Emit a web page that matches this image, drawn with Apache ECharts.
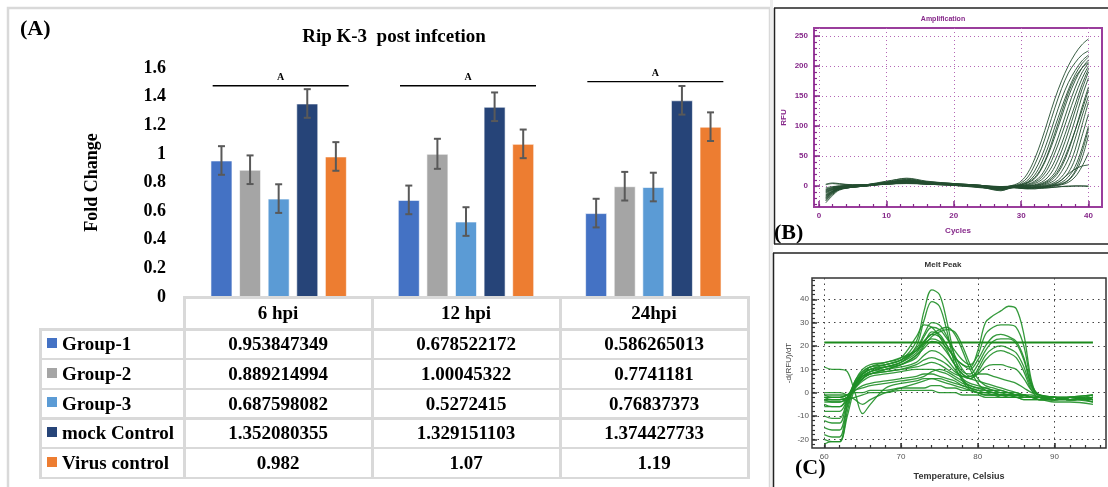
<!DOCTYPE html>
<html><head><meta charset="utf-8">
<script src="https://cdn.jsdelivr.net/npm/echarts@6/dist/echarts.min.js"></script>
<style>
html,body{margin:0;padding:0;background:#fff;}
#wrap{position:relative;width:1108px;height:487px;overflow:hidden;background:#fff;}
#chart{position:absolute;left:0;top:0;width:1108px;height:487px;}
#tbl{position:absolute;left:0;top:0;width:1108px;height:487px;pointer-events:none;font-family:"Liberation Serif","Times New Roman",serif;font-weight:bold;color:#000;}
.ln{position:absolute;background:#d9d9d9;}
.cell{position:absolute;text-align:center;font-size:19px;white-space:nowrap;}
.leg{position:absolute;font-size:19px;white-space:nowrap;}
.sq{position:absolute;width:10px;height:10px;}
</style>
</head><body>
<div id="wrap"><div id="chart"></div><div id="tbl"></div></div>
<script>
// ---------- Panel A data ----------
const categories = ['6 hpi', '12 hpi', '24hpi'];
const seriesNames = ['Group-1', 'Group-2', 'Group-3', 'mock Control', 'Virus control'];
const group1 = [0.953847349, 0.678522172, 0.586265013];
const group2 = [0.889214994, 1.00045322, 0.7741181];
const group3 = [0.687598082, 0.5272415, 0.76837373];
const mockControl = [1.352080355, 1.329151103, 1.374427733];
const virusControl = [0.982, 1.07, 1.19];
const err1 = [0.1, 0.1, 0.1];
const err2 = [0.1, 0.105, 0.1];
const err3 = [0.1, 0.1, 0.1];
const errMock = [0.1, 0.1, 0.1];
const errVirus = [0.1, 0.1, 0.1];
const sigLevels = [1.476, 1.476, 1.505];
const sigLabels = ['A', 'A', 'A'];
const barColors = ['#4472C4', '#A5A5A5', '#5B9BD5', '#264478', '#ED7D31'];

// ---------- Panel B data (Amplification) ----------
const ampCycles = [1, 2, 3, 5, 7, 10, 13, 16, 20, 24, 27, 29, 30, 31, 32, 33, 34, 35, 36, 37, 38, 39, 40];
const ampCurves = [
  [-20, -10, -4, -1, 1, 4, 6, 4, 2, 0, -2, 2, 8, 22, 45, 75, 110, 145, 175, 200, 220, 235, 245],
  [-15, -8, -3, 0, 2, 5, 8, 5, 3, 1, -1, 1, 5, 15, 35, 62, 95, 130, 162, 188, 205, 218, 225],
  [-25, -14, -6, -2, 1, 6, 10, 6, 3, 0, -3, 0, 3, 10, 25, 48, 78, 112, 145, 172, 192, 208, 218],
  [-10, -5, -2, 0, 2, 8, 12, 7, 4, 1, -2, 0, 2, 7, 18, 38, 65, 98, 130, 160, 185, 203, 215],
  [-18, -9, -4, -1, 1, 3, 5, 3, 2, 0, -4, -1, 1, 5, 12, 28, 52, 82, 115, 148, 175, 196, 210],
  [2, 4, 3, 2, 2, 4, 6, 4, 2, -1, -5, 0, 1, 3, 8, 18, 38, 65, 98, 132, 163, 188, 205],
  [-22, -12, -5, -2, 0, 5, 9, 6, 3, 1, -6, -2, 0, 2, 6, 14, 30, 55, 85, 118, 150, 178, 200],
  [-8, -4, -1, 1, 2, 6, 10, 6, 3, 0, -3, -1, 0, 1, 4, 10, 22, 42, 70, 102, 135, 168, 195],
  [-12, -6, -2, 0, 2, 4, 7, 5, 2, -1, -2, 0, -1, 0, 2, 6, 15, 32, 58, 90, 125, 160, 190],
  [-5, -2, 0, 1, 2, 3, 5, 3, 1, -2, -7, -2, -1, 0, 1, 4, 10, 22, 45, 75, 110, 148, 180],
  [-16, -9, -4, -1, 1, 5, 9, 5, 3, 0, -4, -1, -2, -1, 0, 2, 6, 15, 32, 58, 92, 130, 165],
  [3, 5, 4, 2, 2, 3, 5, 4, 2, -1, -3, 0, -1, -2, -1, 1, 4, 10, 24, 45, 78, 115, 150],
  [-28, -16, -7, -2, 0, 4, 8, 5, 2, -2, -8, -1, -2, -3, -2, 0, 2, 6, 15, 32, 60, 100, 140],
  [-14, -7, -3, 0, 1, 3, 4, 3, 1, -3, -5, -2, -3, -3, -2, -1, 1, 4, 10, 22, 45, 82, 120],
  [-6, -3, -1, 0, 1, 5, 11, 7, 4, 1, -2, -3, -4, -4, -3, -2, 0, 2, 6, 15, 32, 62, 100],
  [-19, -11, -5, -2, 0, 4, 6, 4, 2, -2, -6, -2, -3, -4, -5, -3, -1, 1, 4, 10, 25, 55, 95],
  [-9, -5, -2, 0, 2, 7, 13, 8, 4, 1, -4, -3, -4, -5, -4, -3, -2, 0, 2, 6, 15, 32, 55],
  [-11, -6, -3, -1, 1, 4, 7, 5, 2, -1, -3, -2, -3, -3, -2, -1, 0, 3, 10, 20, 28, 33, 35],
  [-3, -1, 0, 1, 2, 4, 6, 4, 2, 0, -1, -1, -2, -3, -3, -4, -3, -2, -1, 0, 0, 0, 0],
  [-24, -13, -6, -2, 0, 3, 5, 3, 1, -2, -4, 0, -1, -2, -2, -3, -3, -2, -1, -1, 0, 0, -1],
  [-17, -9, -4, -1, 1, 6, 9, 6, 3, 0, -3, 0, 2, 6, 14, 30, 55, 88, 122, 155, 180, 196, 206],
  [-7, -3, -1, 0, 2, 5, 8, 5, 2, -1, -5, -1, 0, 0, 1, 3, 8, 18, 36, 62, 92, 125, 160],
  [-21, -11, -5, -2, 0, 4, 7, 4, 2, -1, -6, -2, -3, -3, -3, -2, -1, 1, 3, 9, 22, 45, 85]
];
const ampXLabels = [0, 10, 20, 30, 40];
const ampYLabels = [0, 50, 100, 150, 200, 250];
const ampXMinor = [0, 2, 4, 6, 8, 10, 12, 14, 16, 18, 20, 22, 24, 26, 28, 30, 32, 34, 36, 38, 40];
const ampYMinor = [-30, -20, -10, 0, 10, 20, 30, 40, 50, 60, 70, 80, 90, 100, 110, 120, 130, 140, 150, 160, 170, 180, 190, 200, 210, 220, 230, 240, 250, 260];

// ---------- Panel C data (Melt Peak) ----------
const meltTemps = [60, 61, 62, 63, 64, 65, 66, 68, 70, 72, 73, 74, 75, 76, 77, 78, 79, 80, 81, 82, 83, 84, 85, 86, 87, 88, 90, 92, 95];
const meltCurves = [
  [-2, -3, -3, -2, 4, 8, 10, 12, 14, 22, 35, 44, 42, 30, 15, 6, 2, 0, -1, -1, -1, -2, -2, -2, -2, -3, -3, -2, -4],
  [-3, -4, -4, -2, 3, 7, 9, 11, 13, 20, 31, 39, 37, 26, 12, 5, 1, 0, -1, -1, -2, -2, -2, -3, -3, -3, -2, -2, -3],
  [-20, -21, -21, -8, 4, 8, 10, 11, 13, 17, 22, 25, 24, 20, 15, 12, 11, 18, 30, 33, 35, 37, 36, 25, 5, -2, -3, -3, -2],
  [-15, -16, -16, -5, 5, 9, 11, 12, 14, 18, 24, 28, 27, 23, 18, 14, 12, 16, 25, 28, 29, 29, 28, 20, 4, -1, -2, -3, -1],
  [-2, -2, -2, -1, 3, 8, 11, 13, 15, 24, 29, 28, 24, 18, 12, 8, 6, 5, 4, 3, 2, 1, 0, -1, -2, -2, -3, -2, -3],
  [-3, -3, -3, -2, 2, 6, 9, 11, 13, 18, 22, 25, 27, 28, 25, 18, 10, 4, 1, 0, -1, -1, -2, -2, -2, -3, -3, -2, -4],
  [-10, -11, -11, -3, 5, 10, 12, 13, 15, 18, 21, 23, 22, 19, 15, 12, 10, 14, 20, 24, 25, 24, 22, 15, 3, -1, -2, -2, -3],
  [-5, -6, -6, -2, 4, 8, 10, 11, 12, 16, 19, 22, 21, 17, 12, 8, 6, 10, 16, 19, 20, 19, 17, 11, 2, -1, -2, -3, -2],
  [-3, -3, -3, -2, 3, 7, 9, 10, 11, 13, 16, 18, 17, 14, 10, 6, 4, 3, 2, 1, 0, 0, -1, -1, -2, -2, -3, -2, -1],
  [-18, -19, -19, -6, 3, 7, 8, 9, 10, 12, 14, 15, 14, 12, 9, 7, 6, 8, 11, 12, 12, 11, 10, 6, 1, -1, -2, -3, -2],
  [-2, -2, -2, -1, 2, 5, 7, 8, 9, 10, 10, 10, 9, 8, 6, 4, 3, 2, 1, 1, 0, 0, -1, -1, -2, -2, -2, -3, -2],
  [-3, -3, -3, -2, 1, 3, 4, 5, 6, 7, 8, 8, 7, 6, 5, 3, 2, 1, 0, 0, -1, -1, -1, -2, -2, -2, -3, -3, -4],
  [-1, -1, -1, -1, 0, 0, 1, 1, 2, 2, 2, 3, 3, 2, 2, 1, 1, 0, 0, 0, -1, -1, -1, -1, -2, -2, -2, -2, -3],
  [-4, -4, -4, -3, -2, -1, 0, 0, 1, 1, 1, 1, 0, 0, 0, -1, -1, -1, -2, -2, -2, -2, -2, -3, -3, -3, -4, -4, -5],
  [11, 10, 10, 9, 0, -9, -5, 2, 4, 5, 6, 6, 5, 4, 3, 2, 1, 0, 0, -1, -1, -1, -2, -2, -2, -3, -3, -3, -2],
  [-22, -21, -21, -10, 2, 6, 8, 10, 12, 15, 20, 24, 26, 27, 26, 20, 12, 6, 3, 2, 1, 0, -1, -1, -2, -2, -3, -2, -1],
  [0, 0, 0, -1, -3, -5, -3, 0, 2, 4, 5, 6, 6, 5, 4, 3, 2, 1, 1, 0, 0, -1, -1, -2, -2, -3, -3, -2, -3],
  [-12, -13, -13, -4, 3, 6, 8, 9, 10, 11, 12, 13, 12, 10, 8, 7, 7, 8, 8, 7, 6, 5, 4, 2, 0, -1, -2, -3, -2],
  [-8, -8, -8, -3, 4, 9, 11, 12, 14, 19, 25, 30, 29, 24, 16, 10, 7, 9, 14, 17, 18, 17, 15, 9, 1, -2, -2, -3, -3],
  [-1, -2, -2, -1, 1, 2, 3, 4, 5, 6, 7, 9, 10, 9, 7, 5, 3, 2, 2, 1, 1, 0, 0, -1, -1, -2, -2, -3, -2],
  [-6, -6, -6, -3, 2, 6, 8, 10, 12, 16, 21, 26, 25, 20, 14, 9, 8, 12, 18, 22, 23, 23, 21, 14, 3, -1, -2, -2, -3]
];
const meltThreshold = 21.5;
const meltThresholdRange = [60, 95];
const meltXLabels = [60, 70, 80, 90];
const meltYLabels = [-20, -10, 0, 10, 20, 30, 40];
const meltXMinor = [60, 62, 64, 66, 68, 70, 72, 74, 76, 78, 80, 82, 84, 86, 88, 90, 92, 94, 96];
const meltYMinor = [-22, -20, -18, -16, -14, -12, -10, -8, -6, -4, -2, 0, 2, 4, 6, 8, 10, 12, 14, 16, 18, 20, 22, 24, 26, 28, 30, 32, 34, 36, 38, 40, 42, 44, 46, 48];

// ---------- build ----------
const SERIF = '"Liberation Serif","Times New Roman",serif';
const SANS = '"Liberation Sans",Arial,sans-serif';
const PURPLE = '#86288a';
const BAR_STEP = 28.6;
const groupVals = [group1, group2, group3, mockControl, virusControl];
const groupErrs = [err1, err2, err3, errMock, errVirus];

const series = [];
groupVals.forEach((vals, gi) => {
  series.push({
    type: 'bar', name: seriesNames[gi], xAxisIndex: 0, yAxisIndex: 0,
    data: vals, barWidth: 22, barGap: '30%',
    itemStyle: { color: barColors[gi], borderColor: 'rgba(255,255,255,0.6)', borderWidth: 1 }
  });
});
groupVals.forEach((vals, gi) => {
  const errs = groupErrs[gi];
  series.push({
    type: 'custom', xAxisIndex: 0, yAxisIndex: 0, z: 10,
    encode: { x: 0, y: [1, 2] },
    data: vals.map((v, i) => [i, v - errs[i], v + errs[i]]),
    renderItem: function (params, api) {
      const lo = api.coord([api.value(0), api.value(1)]);
      const hi = api.coord([api.value(0), api.value(2)]);
      const x = lo[0] + (gi - 2) * BAR_STEP;
      const cap = 3.5;
      const st = { stroke: '#595959', lineWidth: 2 };
      return { type: 'group', children: [
        { type: 'line', shape: { x1: x, y1: lo[1], x2: x, y2: hi[1] }, style: st },
        { type: 'line', shape: { x1: x - cap, y1: hi[1], x2: x + cap, y2: hi[1] }, style: st },
        { type: 'line', shape: { x1: x - cap, y1: lo[1], x2: x + cap, y2: lo[1] }, style: st }
      ]};
    }
  });
});
series.push({
  type: 'custom', xAxisIndex: 0, yAxisIndex: 0, z: 11,
  encode: { x: 0, y: 1 },
  data: sigLevels.map((v, i) => [i, v]),
  renderItem: function (params, api) {
    const c = api.coord([api.value(0), api.value(1)]);
    return { type: 'group', children: [
      { type: 'line', shape: { x1: c[0] - 66, y1: c[1], x2: c[0] + 70, y2: c[1] }, style: { stroke: '#000', lineWidth: 1.3 } },
      { type: 'text', x: c[0] + 2, y: c[1] - 3, style: { text: sigLabels[params.dataIndex], fill: '#000', font: 'bold 10px ' + SERIF, align: 'center', verticalAlign: 'bottom' } }
    ]};
  }
});
ampCurves.forEach(curve => {
  series.push({
    type: 'line', xAxisIndex: 1, yAxisIndex: 1, showSymbol: false, smooth: 0.35, silent: true,
    data: curve.map((v, i) => [ampCycles[i], v]),
    lineStyle: { color: '#244d30', width: 1, opacity: 0.9 }
  });
});
meltCurves.forEach(curve => {
  series.push({
    type: 'line', xAxisIndex: 2, yAxisIndex: 2, showSymbol: false, smooth: 0.35, silent: true,
    data: curve.map((v, i) => [meltTemps[i], v]),
    lineStyle: { color: '#1f8f27', width: 1.3, opacity: 0.9 }
  });
});
series.push({
  type: 'line', xAxisIndex: 2, yAxisIndex: 2, showSymbol: false, silent: true,
  data: meltThresholdRange.map(t => [t, meltThreshold]),
  lineStyle: { color: '#1c8a1c', width: 2 }
});

const hiddenLine = { show: false, onZero: false };
const hidden = { show: false };
const option = {
  animation: false,
  backgroundColor: '#fff',
  title: {
    text: 'Rip K-3  post infcetion', left: 389, top: 23, textAlign: 'center',
    textStyle: { fontFamily: SERIF, fontWeight: 'bold', fontSize: 19, color: '#000' }
  },
  grid: [
    { left: 185, top: 68, width: 562, height: 229 },
    { left: 814, top: 28, width: 288, height: 179, show: true, borderColor: '#9a3d9c', borderWidth: 2, backgroundColor: 'transparent' },
    { left: 812, top: 278, width: 294, height: 170, show: true, borderColor: '#333', borderWidth: 1.5, backgroundColor: 'transparent' }
  ],
  xAxis: [
    { type: 'category', gridIndex: 0, data: categories, axisLine: hiddenLine, axisTick: hidden, axisLabel: hidden, splitLine: hidden },
    { type: 'value', gridIndex: 1, min: -0.75, max: 42, position: 'bottom',
      name: 'Cycles', nameLocation: 'middle', nameGap: 20,
      nameTextStyle: { color: PURPLE, fontFamily: SANS, fontWeight: 'bold', fontSize: 8 },
      axisLine: hiddenLine,
      axisTick: { customValues: ampXLabels, inside: true, length: 6, lineStyle: { color: PURPLE, width: 1.5 } },
      axisLabel: { customValues: ampXLabels, color: PURPLE, fontFamily: SANS, fontWeight: 'bold', fontSize: 8, margin: 5 },
      splitLine: { show: true, lineStyle: { color: '#b466b6', type: [1, 3], width: 1 } } },
    { type: 'value', gridIndex: 2, min: 58.4, max: 96.7, position: 'bottom',
      name: 'Temperature, Celsius', nameLocation: 'middle', nameGap: 24,
      nameTextStyle: { color: '#333', fontFamily: SANS, fontWeight: 'bold', fontSize: 9 },
      axisLine: hiddenLine,
      axisTick: { customValues: meltXLabels, inside: true, length: 5, lineStyle: { color: '#333', width: 1.5 } },
      axisLabel: { customValues: meltXLabels, color: '#555', fontFamily: SANS, fontSize: 8, margin: 5 },
      splitLine: { show: true, lineStyle: { color: '#444', type: [1.5, 4], width: 1 } } },
    { type: 'value', gridIndex: 1, min: -0.75, max: 42, position: 'bottom', axisLine: hiddenLine, axisLabel: hidden, splitLine: hidden,
      axisTick: { customValues: ampXMinor, inside: true, length: 3, lineStyle: { color: PURPLE, width: 1.2 } } },
    { type: 'value', gridIndex: 2, min: 58.4, max: 96.7, position: 'bottom', axisLine: hiddenLine, axisLabel: hidden, splitLine: hidden,
      axisTick: { customValues: meltXMinor, inside: true, length: 3, lineStyle: { color: '#333', width: 1.2 } } }
  ],
  yAxis: [
    { type: 'value', gridIndex: 0, min: 0, max: 1.6, interval: 0.2,
      name: 'Fold Change', nameLocation: 'middle', nameGap: 84, nameRotate: 90,
      nameTextStyle: { fontFamily: SERIF, fontWeight: 'bold', fontSize: 18, color: '#000' },
      axisLine: hiddenLine, axisTick: hidden, splitLine: hidden,
      axisLabel: { fontFamily: SERIF, fontWeight: 'bold', fontSize: 18, color: '#000', margin: 19 } },
    { type: 'value', gridIndex: 1, min: -35, max: 263, position: 'left',
      name: 'RFU', nameLocation: 'middle', nameGap: 26, nameRotate: 90,
      nameTextStyle: { color: PURPLE, fontFamily: SANS, fontWeight: 'bold', fontSize: 8 },
      axisLine: hiddenLine,
      axisTick: { customValues: ampYLabels, inside: true, length: 6, lineStyle: { color: PURPLE, width: 1.5 } },
      axisLabel: { customValues: ampYLabels, color: PURPLE, fontFamily: SANS, fontWeight: 'bold', fontSize: 8, margin: 6 },
      splitLine: { show: true, lineStyle: { color: '#b466b6', type: [1, 3], width: 1 } } },
    { type: 'value', gridIndex: 2, min: -23.7, max: 49.1, position: 'left',
      name: '-d(RFU)/dT', nameLocation: 'middle', nameGap: 19, nameRotate: 90,
      nameTextStyle: { color: '#444', fontFamily: SANS, fontSize: 8 },
      axisLine: hiddenLine,
      axisTick: { customValues: meltYLabels, inside: true, length: 5, lineStyle: { color: '#333', width: 1.5 } },
      axisLabel: { customValues: meltYLabels, color: '#555', fontFamily: SANS, fontSize: 8, margin: 3 },
      splitLine: { show: true, lineStyle: { color: '#444', type: [1.5, 4], width: 1 } } },
    { type: 'value', gridIndex: 1, min: -35, max: 263, position: 'left', axisLine: hiddenLine, axisLabel: hidden, splitLine: hidden,
      axisTick: { customValues: ampYMinor, inside: true, length: 3, lineStyle: { color: PURPLE, width: 1.2 } } },
    { type: 'value', gridIndex: 2, min: -23.7, max: 49.1, position: 'left', axisLine: hiddenLine, axisLabel: hidden, splitLine: hidden,
      axisTick: { customValues: meltYMinor, inside: true, length: 3, lineStyle: { color: '#333', width: 1.2 } } }
  ],
  graphic: [
    { type: 'rect', shape: { x: 8, y: 8, width: 762, height: 490 }, style: { fill: 'none', stroke: '#d9d9d9', lineWidth: 2.5 }, silent: true },
    { type: 'rect', shape: { x: 770, y: 0, width: 3, height: 487 }, style: { fill: '#eeeeee' }, silent: true },
    { type: 'line', shape: { x1: 774, y1: 8, x2: 1108, y2: 8 }, style: { stroke: '#222', lineWidth: 1.5 }, silent: true },
    { type: 'line', shape: { x1: 774.5, y1: 8, x2: 774.5, y2: 244 }, style: { stroke: '#222', lineWidth: 1.5 }, silent: true },
    { type: 'line', shape: { x1: 774, y1: 244, x2: 1108, y2: 244 }, style: { stroke: '#222', lineWidth: 1.5 }, silent: true },
    { type: 'line', shape: { x1: 773, y1: 253, x2: 1108, y2: 253 }, style: { stroke: '#222', lineWidth: 1.5 }, silent: true },
    { type: 'line', shape: { x1: 773.5, y1: 253, x2: 773.5, y2: 487 }, style: { stroke: '#222', lineWidth: 1.5 }, silent: true },
    { type: 'text', x: 20, y: 18, style: { text: '(A)', font: 'bold 22px ' + SERIF, fill: '#000' }, silent: true },
    { type: 'text', x: 774, y: 222, style: { text: '(B)', font: 'bold 22px ' + SERIF, fill: '#000' }, silent: true, z: 50 },
    { type: 'text', x: 795, y: 457, style: { text: '(C)', font: 'bold 22px ' + SERIF, fill: '#000' }, silent: true, z: 50 },
    { type: 'text', x: 943, y: 19, style: { text: 'Amplification', font: 'bold 7px ' + SANS, fill: PURPLE, align: 'center', verticalAlign: 'middle' }, silent: true },
    { type: 'text', x: 943, y: 265, style: { text: 'Melt Peak', font: 'bold 8px ' + SANS, fill: '#333', align: 'center', verticalAlign: 'middle' }, silent: true }
  ],
  series: series
};
const chart = echarts.init(document.getElementById('chart'), null, { renderer: 'canvas' });
chart.setOption(option);

// ---------- data table (HTML, built from the arrays above) ----------
const tbl = document.getElementById('tbl');
const colX = [40, 184, 372, 560, 748];
const rowY = [297, 329, 358.5, 388.5, 418, 447.5, 477.5];
function addDiv(cls, l, t, w, h, extra) {
  const d = document.createElement('div');
  d.className = cls;
  d.style.left = l + 'px'; d.style.top = t + 'px';
  d.style.width = w + 'px'; d.style.height = h + 'px';
  if (extra) extra(d);
  tbl.appendChild(d);
  return d;
}
for (let i = 0; i < rowY.length; i++) {
  const x0 = i === 0 ? colX[1] : colX[0];
  addDiv('ln', x0 - 1, rowY[i] - 1, colX[4] - x0 + 2, 2.5);
}
for (let j = 0; j < colX.length; j++) {
  const y0 = j === 0 ? rowY[1] : rowY[0];
  addDiv('ln', colX[j] - 1, y0 - 1, 2.5, rowY[6] - y0 + 2);
}
categories.forEach((c, j) => {
  addDiv('cell', colX[j + 1], rowY[0], colX[j + 2] - colX[j + 1], rowY[1] - rowY[0], d => {
    d.textContent = c; d.style.lineHeight = (rowY[1] - rowY[0]) + 'px';
  });
});
seriesNames.forEach((name, r) => {
  const top = rowY[r + 1], h = rowY[r + 2] - rowY[r + 1];
  addDiv('sq', 47, top + h / 2 - 6, 10, 10, d => { d.style.background = barColors[r]; });
  addDiv('leg', 62, top, 120, h, d => { d.textContent = name; d.style.lineHeight = h + 'px'; });
  groupVals[r].forEach((v, j) => {
    addDiv('cell', colX[j + 1], top, colX[j + 2] - colX[j + 1], h, d => {
      d.textContent = String(v); d.style.lineHeight = h + 'px';
    });
  });
});
</script>
</body></html>
